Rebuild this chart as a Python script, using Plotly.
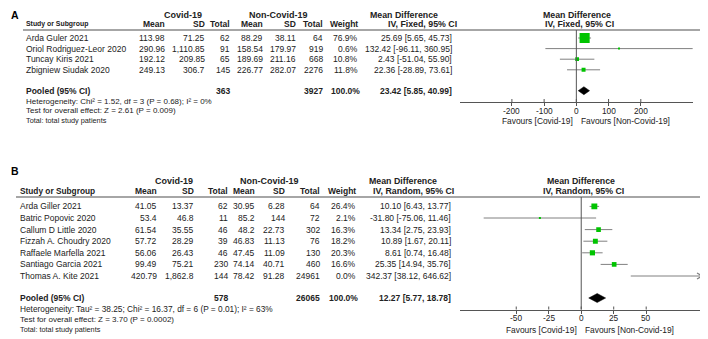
import plotly.graph_objects as go
import math

W, H = 708, 339
FONT = "Liberation Sans, Arial, sans-serif"
TXT = "#222222"
GREEN = "#00c400"
GREY = "#808080"
AXC = "#555555"

# ---------------- Panel A data ----------------
studies_A = ["Arda Guler 2021", "Oriol Rodriguez-Leor 2020", "Tuncay Kiris 2021", "Zbigniew Siudak 2020"]
covid_mean_A = [113.98, 290.96, 192.12, 249.13]
covid_sd_A = [71.25, 1110.85, 209.85, 306.7]
covid_n_A = [62, 91, 65, 145]
non_mean_A = [88.29, 158.54, 189.69, 226.77]
non_sd_A = [38.11, 179.97, 211.16, 282.07]
non_n_A = [64, 919, 668, 2276]
weight_A = [76.9, 0.6, 10.8, 11.8]
md_A = [25.69, 132.42, 2.43, 22.36]
lo_A = [5.65, -96.11, -51.04, -28.89]
hi_A = [45.73, 360.95, 55.90, 73.61]
pooled_A = dict(n_covid=363, n_non=3927, weight=100.0, md=23.42, lo=5.85, hi=40.99)
het_A = "Heterogeneity: Chi² = 1.52, df = 3 (P = 0.68); I² = 0%"
test_A = "Test for overall effect: Z = 2.61 (P = 0.009)"
ticks_A = [-200, -100, 0, 100, 200]
method_A = "IV, Fixed, 95% CI"

# ---------------- Panel B data ----------------
studies_B = ["Arda Giller 2021", "Batric Popovic 2020", "Callum D Little 2020", "Fizzah A. Choudry 2020",
             "Raffaele Marfella 2021", "Santiago Garcia 2021", "Thomas A. Kite 2021"]
covid_mean_B = [41.05, 53.4, 61.54, 57.72, 56.06, 99.49, 420.79]
covid_sd_B = [13.37, 46.8, 35.55, 28.29, 26.43, 75.21, 1862.8]
covid_n_B = [62, 11, 46, 39, 46, 230, 144]
non_mean_B = [30.95, 85.2, 48.2, 46.83, 47.45, 74.14, 78.42]
non_sd_B = [6.28, 144, 22.73, 11.13, 11.09, 40.71, 91.28]
non_n_B = [64, 72, 302, 76, 130, 460, 24961]
weight_B = [26.4, 2.1, 16.3, 18.2, 20.3, 16.6, 0.0]
md_B = [10.10, -31.80, 13.34, 10.89, 8.61, 25.35, 342.37]
lo_B = [6.43, -75.06, 2.75, 1.67, 0.74, 14.94, 38.12]
hi_B = [13.77, 11.46, 23.93, 20.11, 16.48, 35.76, 646.62]
pooled_B = dict(n_covid=578, n_non=26065, weight=100.0, md=12.27, lo=5.77, hi=18.78)
het_B = "Heterogeneity: Tau² = 38.25; Chi² = 16.37, df = 6 (P = 0.01); I² = 63%"
test_B = "Test for overall effect: Z = 3.70 (P = 0.0002)"
ticks_B = [-50, -25, 0, 25, 50]
method_B = "IV, Random, 95% CI"

total_note = "Total: total study patients"
fav_left = "Favours [Covid-19]"
fav_right = "Favours [Non-Covid-19]"


def fmt(v):
    return str(v) if isinstance(v, int) else f"{v:,}"


def ci(m, l, h):
    return f"{m:.2f} [{l:.2f}, {h:.2f}]"


ann = []
shapes = []
fig = go.Figure()


def T(x, y, s, anchor="left", size=8.5, bold=False, color=TXT, xref="paper"):
    xv = x / W if xref == "paper" else x
    ann.append(dict(x=xv, y=1 - y / H, xref=xref, yref="paper",
                    text=("<b>" + s + "</b>") if bold else s, showarrow=False,
                    xanchor=anchor, yanchor="middle", borderpad=0, borderwidth=0,
                    font=dict(size=size, family=FONT, color=color)))


def panel(P):
    L = P["layout"]
    xa = P["xaxis"]
    xr = P["xr"]
    upp = (xr[1] - xr[0]) / ((L["dom"][1] - L["dom"][0]))  # data units per pixel
    T(L["letter_x"], L["letter_y"], P["letter"], size=10.5, bold=True, color="#000")
    T(L["cov_c"], L["h1"], "Covid-19", "center", 9, True)
    T(L["non_c"], L["h1"], "Non-Covid-19", "center", 9, True)
    T(L["md1_c"], L["h1"], "Mean Difference", "center", 8.8, True)
    T(L["md2_c"], L["h1"], "Mean Difference", "center", 8.8, True)
    T(L["m1_c"], L["h2"], P["method"], "center", 8.8, True)
    T(L["m2_c"], L["h2"], P["method"], "center", 8.8, True)
    T(L["name_x"], L["h2"], "Study or Subgroup", "left", L["sos_size"], True)
    cols = L["cols"]
    for lab, cx in zip(["Mean", "SD", "Total", "Mean", "SD", "Total", "Weight"], cols):
        T(cx, L["h2"], lab, "right", 8.5, True)
    shapes.append(dict(type="line", xref="paper", yref="paper", x0=L["hl_x0"] / W, x1=L["hl_x1"] / W,
                       y0=1 - L["hline"] / H, y1=1 - L["hline"] / H, line=dict(color="#888", width=1.5)))
    n = len(P["studies"])
    ys = [L["row0"] + i * L["dy"] for i in range(n)]
    for i in range(n):
        y = ys[i]
        T(L["name_x"], y, P["studies"][i])
        vals = [P["cm"][i], P["cs"][i], P["cn"][i], P["nm"][i], P["ns"][i], P["nn"][i]]
        for v, cx in zip(vals, cols[:6]):
            T(cx, y, fmt(v), "right")
        T(cols[6], y, f"{P['w'][i]:.1f}%", "right")
        T(L["ci_r"], y, ci(P["md"][i], P["lo"][i], P["hi"][i]), "right")
        fig.add_trace(go.Scatter(x=[P["lo"][i], P["hi"][i]], y=[y, y], mode="lines",
                                 line=dict(color=GREY, width=1), xaxis=xa, yaxis="y",
                                 hoverinfo="skip", showlegend=False))
        sz = 1.15 * math.sqrt(P["w"][i])
        if sz > 0:
            fig.add_trace(go.Scatter(x=[P["md"][i]], y=[y], mode="markers",
                                     marker=dict(symbol="square", size=max(sz, 2), color=GREEN,
                                                 line=dict(width=0)),
                                     xaxis=xa, yaxis="y", hoverinfo="skip", showlegend=False))
        if P["hi"][i] > xr[1]:
            tip = xr[1] - 1.0 * upp
            back = tip - 5 * upp
            fig.add_trace(go.Scatter(x=[back, tip, back], y=[y - 3, y, y + 3], mode="lines",
                                     line=dict(color=GREY, width=1.2), xaxis=xa, yaxis="y",
                                     hoverinfo="skip", showlegend=False))
    pl = P["pooled"]
    yp = L["pooled"]
    T(L["name_x"], yp, "Pooled (95% CI)", "left", 8.5, True)
    T(cols[2], yp, str(pl["n_covid"]), "right", 8.5, True)
    T(cols[5], yp, str(pl["n_non"]), "right", 8.5, True)
    T(cols[6] + 2, yp, f"{pl['weight']:.1f}%", "right", 8.5, True)
    T(L["ci_r"], yp, ci(pl["md"], pl["lo"], pl["hi"]), "right", 8.5, True)
    h = L["dh"]
    fig.add_trace(go.Scatter(x=[pl["lo"], pl["md"], pl["hi"], pl["md"], pl["lo"]],
                             y=[yp, yp - h, yp, yp + h, yp], mode="lines", fill="toself",
                             fillcolor="#000", line=dict(color="#000", width=0.5),
                             xaxis=xa, yaxis="y", hoverinfo="skip", showlegend=False))
    T(L["name_x"], L["het"], P["het"], "left", L["het_size"])
    T(L["name_x"], L["test"], P["test"], "left", 8.0)
    T(L["name_x"], L["total"], total_note, "left", 7.3)
    shapes.append(dict(type="line", xref=xa, yref="y", x0=0, x1=0, y0=L["hline"], y1=L["axis"],
                       line=dict(color=AXC, width=1)))
    for t in P["ticks"]:
        shapes.append(dict(type="line", xref=xa, yref="y", x0=t, x1=t, y0=L["axis"] - 3, y1=L["axis"],
                           line=dict(color=AXC, width=1)))
        T(t, L["axis"] + 8.5, str(t), "center", 8.3, xref=xa)
    T(L["favL"], L["fav"], fav_left, "right", 8.4)
    T(L["favR"], L["fav"], fav_right, "left", 8.4)


LA = dict(letter_x=3, letter_y=7, h1=7, h2=16.5, hline=22, hl_x0=15, hl_x1=693,
          cov_c=175, non_c=270, md1_c=396, md2_c=569, m1_c=415, m2_c=571,
          name_x=17.5, sos_size=6.9,
          cols=[156.7, 196.7, 222.5, 255, 288.3, 315, 349.5],
          ci_r=444, row0=30, dy=10.6, pooled=82.7, dh=4,
          het=93, test=102.6, total=112.3, het_size=8.0, axis=94, fav=113, favL=565, favR=573,
          dom=[451.7, 685])
LB = dict(letter_x=3, letter_y=163, h1=172.5, h2=182.5, hline=189, hl_x0=8, hl_x1=703,
          cov_c=166, non_c=261, md1_c=395, md2_c=572.5, m1_c=405.5, m2_c=575.5,
          name_x=12, sos_size=8.3,
          cols=[149, 185.5, 219.5, 246.5, 277.3, 311.7, 348.3],
          ci_r=443, row0=198.4, dy=11.6, pooled=290, dh=4.5,
          het=300.5, test=311, total=321, het_size=8.3, axis=301.5, fav=322, favL=569, favR=577,
          dom=[451.7, 695])

XR_A = [-362, 362]
XR_B = [-93.5, 93.7]

panel(dict(layout=LA, xaxis="x", letter="A", method=method_A, studies=studies_A,
           cm=covid_mean_A, cs=covid_sd_A, cn=covid_n_A, nm=non_mean_A, ns=non_sd_A, nn=non_n_A,
           w=weight_A, md=md_A, lo=lo_A, hi=hi_A, pooled=pooled_A, het=het_A, test=test_A,
           ticks=ticks_A, xr=XR_A))
panel(dict(layout=LB, xaxis="x2", letter="B", method=method_B, studies=studies_B,
           cm=covid_mean_B, cs=covid_sd_B, cn=covid_n_B, nm=non_mean_B, ns=non_sd_B, nn=non_n_B,
           w=weight_B, md=md_B, lo=lo_B, hi=hi_B, pooled=pooled_B, het=het_B, test=test_B,
           ticks=ticks_B, xr=XR_B))

axis_common = dict(showgrid=False, zeroline=False, showline=True, linecolor=AXC, linewidth=1,
                   ticks="outside", ticklen=3, tickcolor=AXC, tickwidth=1,
                   showticklabels=False, fixedrange=True, anchor="free")

fig.update_layout(
    width=W, height=H, margin=dict(l=0, r=0, t=0, b=0),
    paper_bgcolor="white", plot_bgcolor="rgba(0,0,0,0)",
    showlegend=False,
    xaxis=dict(domain=[LA["dom"][0] / W, LA["dom"][1] / W], range=XR_A, tickvals=ticks_A,
               position=1 - LA["axis"] / H, **axis_common),
    xaxis2=dict(domain=[LB["dom"][0] / W, LB["dom"][1] / W], range=XR_B, tickvals=ticks_B,
                position=1 - LB["axis"] / H, **axis_common),
    yaxis=dict(domain=[0, 1], range=[H, 0], visible=False, fixedrange=True),
    annotations=ann, shapes=shapes,
)

fig.write_html("out.html")
